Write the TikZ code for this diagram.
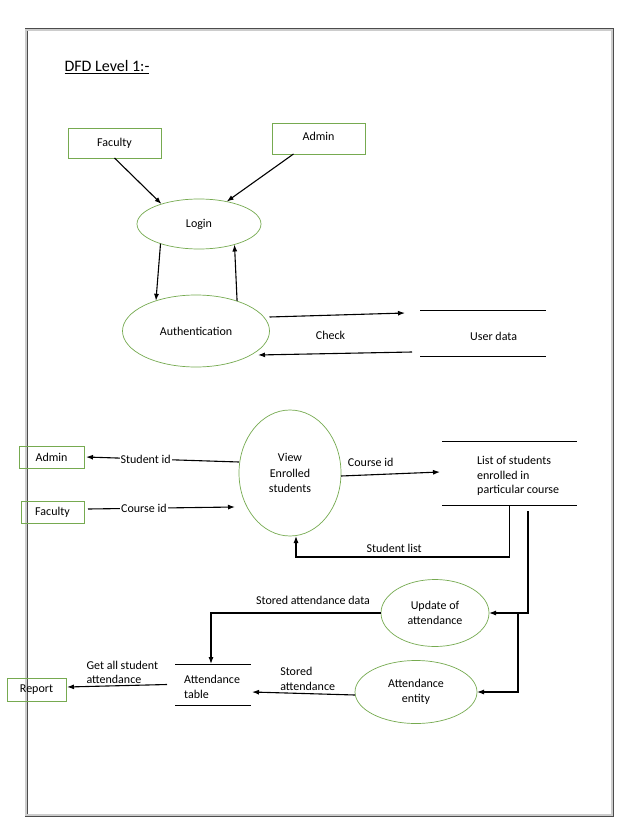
\documentclass[tikz,border=0pt]{standalone}
\usepackage{fontspec}
\setmainfont{Carlito}
\usetikzlibrary{positioning,arrows.meta,shapes.geometric}
\definecolor{dfdgreen}{RGB}{118,170,80}

\begin{document}
\begin{tikzpicture}[
  x=1pt, y=-1pt,
  font=\fontsize{12}{14.5}\selectfont,
  entity/.style={draw=dfdgreen, line width=0.7pt, outer sep=0pt, inner sep=1pt},
  process/.style={ellipse, draw=dfdgreen, line width=0.7pt, align=center, outer sep=0pt, inner sep=0pt},
  store/.style={outer sep=0pt, inner sep=0pt},
  storeline/.style={line width=0.8pt},
  storetext/.style={align=left, anchor=west, inner sep=0pt},
  arrow/.style={-{Latex[length=7pt,width=5pt]}, line width=1.1pt},
  frame/.style={draw=black!70, double=gray!40, double distance=1.2pt, line width=0.9pt}
]
\useasboundingbox (0,0) rectangle (638,826);
\fill[white] (0,0) rectangle (638,826);
\draw[frame] (26,30) rectangle (612,815);

\node[anchor=base west, font=\fontsize{16}{18}\selectfont] (title) at (61,71.5) {\underline{DFD Level 1:-}};

% login part
\node[entity, minimum width=93pt, minimum height=30pt] (fac1) at (114.5,143) {Faculty};
\node[entity, minimum width=93pt, minimum height=31pt] (adm1) at (318.5,138.5) {\raisebox{4pt}{Admin}};
\node[process, minimum width=124pt, minimum height=50pt] (login) at (199,224) {Login};
\node[process, minimum width=147pt, minimum height=72pt] (auth) at (196,331) {Authentication};
\node[store, minimum width=126pt, minimum height=46pt] (udata) at (483,333) {};
\node[storetext] (udatatxt) at (470,336) {User data};

% enrolment part
\node[entity, minimum width=65pt, minimum height=22pt] (adm2) at (51.5,457) {Admin};
\node[entity, minimum width=63pt, minimum height=22pt] (fac2) at (52.5,512) {Faculty};
\node[process, minimum width=102pt, minimum height=126pt, font=\fontsize{12}{15.5}\selectfont] (view) at (290,473) {View\\Enrolled\\students};
\node[store, minimum width=135pt, minimum height=64pt] (list) at (509.5,473) {};
\node[storetext] (listtxt) at (477,476) {List of students\\enrolled in\\particular course};

% attendance part
\node[process, minimum width=108pt, minimum height=67pt] (update) at (435,613) {Update of\\attendance};
\node[process, minimum width=122pt, minimum height=63pt] (attent) at (416,692) {Attendance\\entity};
\node[store, minimum width=76pt, minimum height=41pt] (atable) at (213,684.5) {};
\node[storetext] (atabletxt) at (184,687) {Attendance\\table};
\node[entity, minimum width=59pt, minimum height=23pt] (report) at (36.5,689.5) {Report};

\foreach \s in {udata,list,atable}
  \draw[storeline] (\s.north west) -- (\s.north east) (\s.south west) -- (\s.south east);

\draw[arrow] (fac1.south) -- (login.152);
\draw[arrow] ([xshift=-25pt]adm1.south) -- (login.39);
\draw[arrow] (login.207) -- (auth.143);
\draw[arrow] (auth.36) -- (login.-30);
\draw[arrow] ([yshift=14pt]auth.east) -- node[pos=0.45, below=12pt]{Check} ([xshift=-15pt,yshift=20pt]udata.west);
\draw[arrow] ([xshift=-8pt,yshift=-19pt]udata.west) -- ([xshift=62pt,yshift=-24pt]auth.center);

\draw[arrow] ([yshift=11pt]view.west) -- node[pos=0.61, fill=white, inner sep=1pt]{Student id} ([xshift=2pt]adm2.east);
\draw[arrow] ([xshift=4pt,yshift=3pt]fac2.east) -- node[pos=0.38, fill=white, inner sep=1pt]{Course id} ([xshift=-4pt,yshift=-34pt]view.west);
\draw[arrow] ([yshift=-3pt]view.east) -- node[pos=0.3, above=4pt]{Course id} ([xshift=-2pt,yshift=1pt]list.west);
\draw[arrow] (list.south) -- ++(0,52) -| node[pos=0.27, above=1pt]{Student list} ([xshift=6pt]view.south);

\draw[arrow] ([xshift=18.5pt,yshift=-6pt]list.south) |- (update.east);
\coordinate (split) at ([xshift=29pt]update.east);
\draw[arrow] (split) |- (attent.east);
\draw[arrow] (update.west) -| node[pos=0.2, above=5pt]{Stored attendance data} ([xshift=-2pt]atable.north);
\draw[arrow] ([yshift=-3pt]attent.west) -- node[pos=0.75, anchor=south west, align=left, inner sep=2pt]{Stored\\attendance} ([xshift=1pt,yshift=-7.5pt]atable.east);
\draw[arrow] ([xshift=-8pt]atable.west) -- node[pos=0.83, anchor=south west, align=left, inner sep=2pt]{Get all student\\attendance} ([xshift=1pt,yshift=2.5pt]report.east);
\end{tikzpicture}
\end{document}
